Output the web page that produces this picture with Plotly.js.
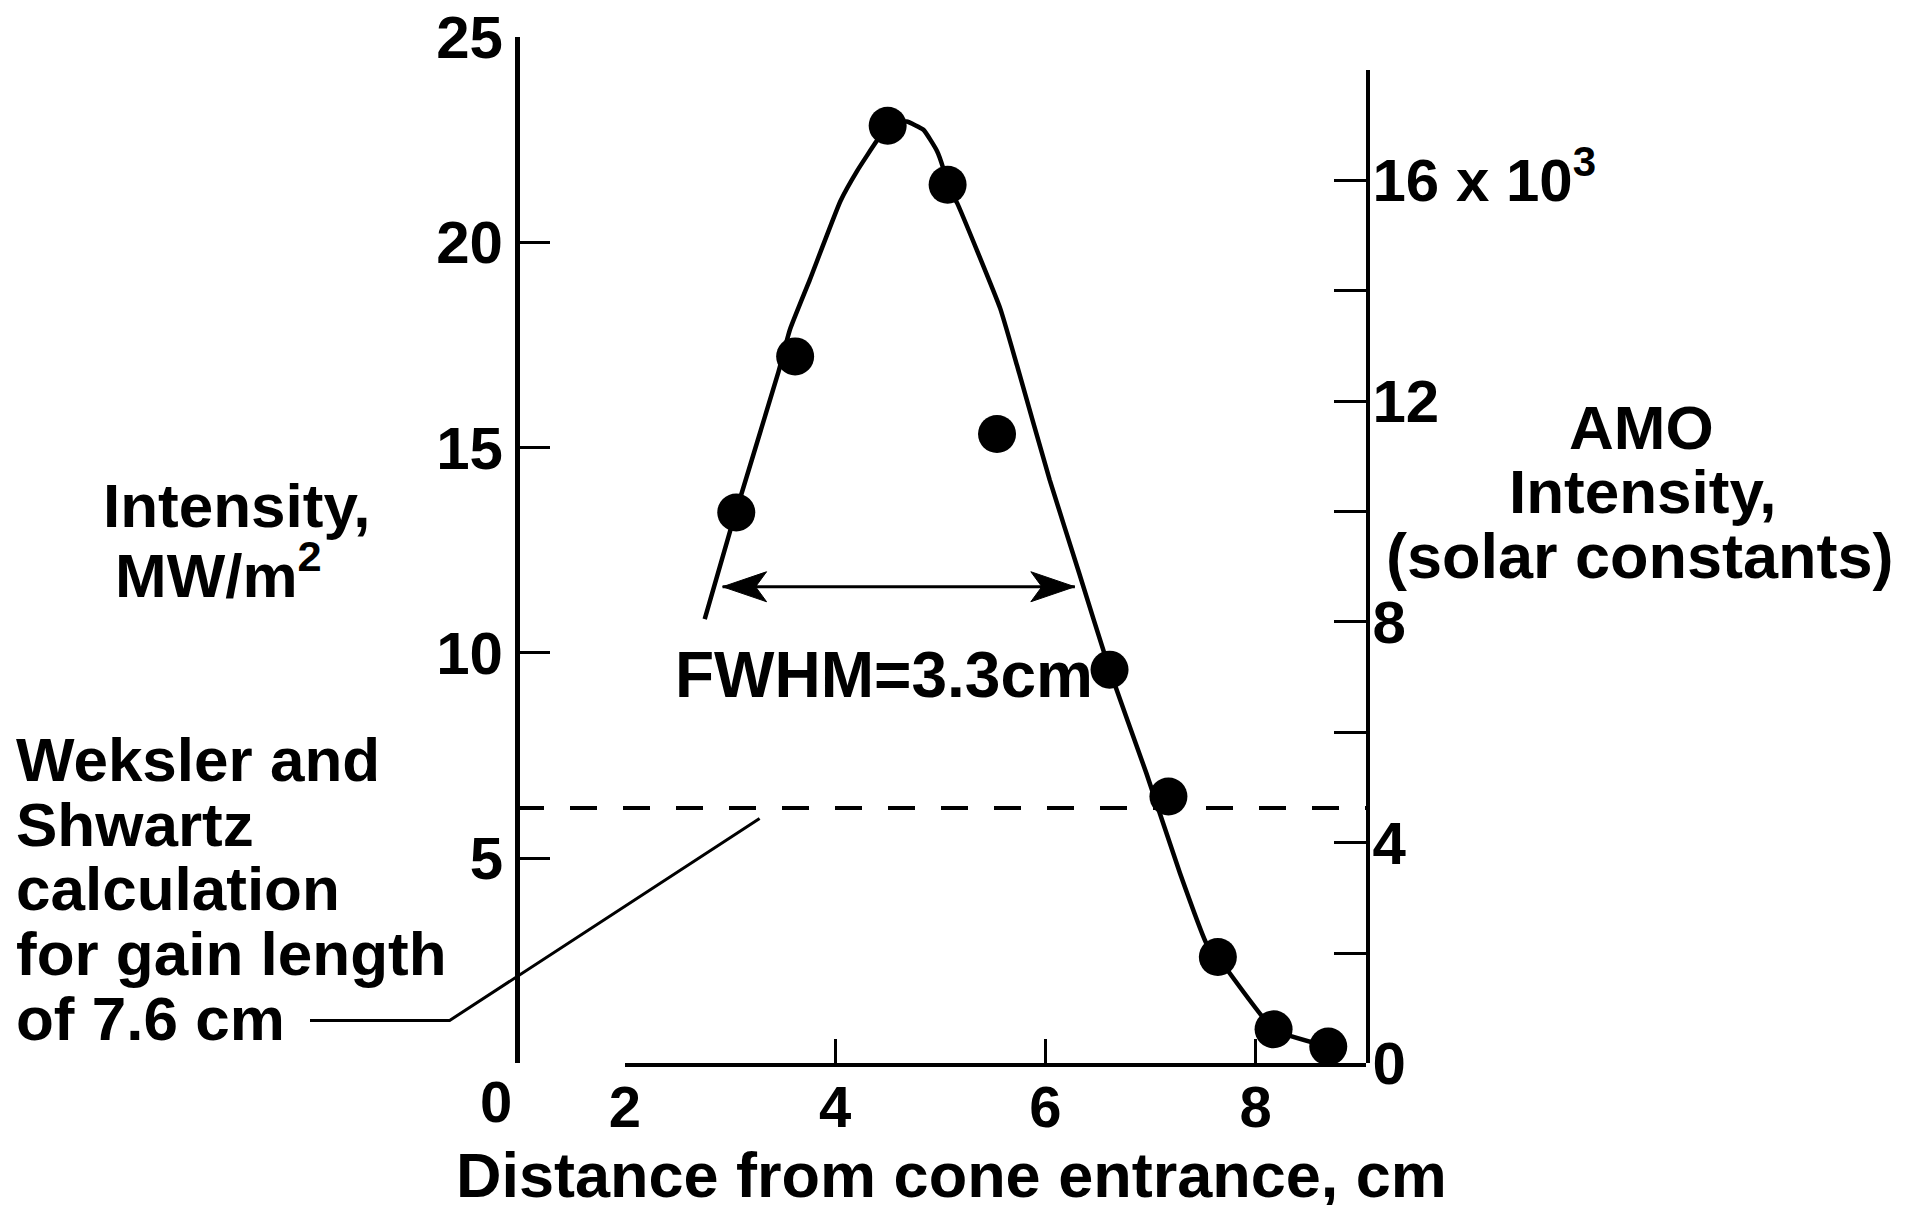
<!DOCTYPE html>
<html>
<head>
<meta charset="utf-8">
<script src="https://cdn.plot.ly/plotly-3.0.1.min.js"></script>
<style>html,body{margin:0;padding:0;background:#fff;}#chart{width:1921px;height:1205px;}</style>
</head>
<body>
<div id="chart"></div>
<script>
// ---------- data ----------
const pointX = [3.06, 3.62, 4.50, 5.07, 5.54, 6.61, 7.17, 7.64, 8.17, 8.69];
const pointY = [13.42, 17.22, 22.84, 21.40, 15.33, 9.59, 6.50, 2.59, 0.83, 0.41];

const curveX = [2.76, 3.00, 3.46, 3.57, 3.76, 4.05, 4.21, 4.40, 4.54, 4.68, 4.84, 4.97, 5.03, 5.07, 5.16, 5.57, 5.73, 6.04, 6.32, 6.61, 6.96, 7.28, 7.53, 7.64, 8.17, 8.69];
const curveY = [10.82, 12.95, 16.83, 17.87, 19.09, 21.00, 21.74, 22.48, 22.89, 22.94, 22.74, 22.22, 21.79, 21.37, 20.96, 18.39, 17.00, 14.22, 11.95, 9.59, 7.07, 4.63, 2.93, 2.59, 0.83, 0.41];

const gainLevel = 6.22;            // Weksler and Shwartz calculation, MW/m2
const fwhmEnds = [2.93, 6.28];     // cm
const fwhmLevel = 11.61;           // MW/m2
const fwhmLabel = 'FWHM=3.3cm';

const leftTickVals = [0, 5, 10, 15, 20, 25];
const leftTickText = ['', '5', '10', '15', '20', '25'];
const rightTickVals = [0, 2, 4, 6, 8, 10, 12, 14, 16, 18];
const rightTickText = ['0', '', '4', '', '8', '', '12', '', '16 x 10<sup>3</sup>', ''];
const bottomTickVals = [2, 4, 6, 8];
const bottomTickText = ['2', '4', '6', '8'];
const breakLabel = '0';

const xTitle = 'Distance from cone entrance, cm';
const leftTitle = ['Intensity,', 'MW/m<sup>2</sup>'];
const rightTitle = ['AMO', 'Intensity,', '(solar constants)'];
const noteLines = ['Weksler and', 'Shwartz', 'calculation', 'for gain length', 'of 7.6 cm'];

// ---------- layout geometry (pixels) ----------
const W = 1921, H = 1205;
const px = v => v / W;
const py = v => 1 - v / H;
const leftAxisPx = 517, xStartPx = 624.8, rightAxisPx = 1366;
const axisBottomPx = 1063.4, leftTopPx = 37, rightTopPx = 69.8;
const pxPerCm = 105.15;
const xMax = 2 + (rightAxisPx - xStartPx) / pxPerCm;

const FONT = 'Liberation Sans, Arial, Helvetica, sans-serif';
const black = '#000';

const traces = [
  {x: curveX, y: curveY, type: 'scatter', mode: 'lines', xaxis: 'x', yaxis: 'y',
   line: {color: black, width: 4.5, shape: 'spline', smoothing: 0.4}, hoverinfo: 'skip', showlegend: false},
  {x: pointX, y: pointY, type: 'scatter', mode: 'markers', xaxis: 'x', yaxis: 'y', cliponaxis: false,
   marker: {color: black, size: 38, line: {width: 0}}, showlegend: false},
  {x: [], y: [], type: 'scatter', mode: 'markers', xaxis: 'x', yaxis: 'y2', showlegend: false}
];

const annotations = [];
function txt(text, x, y, size, xanchor) {
  annotations.push({text: text, xref: 'paper', yref: 'paper', x: px(x), y: py(y),
    xanchor: xanchor || 'center', yanchor: 'middle', showarrow: false,
    font: {family: FONT, size: size, color: black, weight: 'bold'}});
}
txt(xTitle, 951, 1175, 63);
txt(leftTitle[0], 101, 505, 62, 'left');
txt(leftTitle[1], 113, 571, 62, 'left');
txt(rightTitle[0], 1641, 427, 62);
txt(rightTitle[1], 1643, 491, 62);
txt(rightTitle[2], 1640, 556, 63);
const noteY = [759, 824, 888, 953, 1018.5];
noteLines.forEach((t, i) => txt(t, 14, noteY[i], 62, 'left'));
txt(breakLabel, 496, 1101, 58);
annotations.push({text: fwhmLabel, xref: 'x', yref: 'y', x: (fwhmEnds[0] + fwhmEnds[1]) / 2, y: fwhmLevel,
  xshift: -15, yshift: -88, xanchor: 'center', yanchor: 'middle', showarrow: false,
  font: {family: FONT, size: 64, color: black, weight: 'bold'}});

const shapes = [
  // dashed calculated level across the chart
  {type: 'line', xref: 'paper', yref: 'y', x0: px(leftAxisPx), x1: px(rightAxisPx), y0: gainLevel, y1: gainLevel,
   line: {color: black, width: 4, dash: '27px,26px'}},
  // leader from the note to the dashed level
  {type: 'path', xref: 'paper', yref: 'paper',
   path: 'M' + px(310) + ',' + py(1020.5) + ' L' + px(449.6) + ',' + py(1020.5) + ' L' + px(759.6) + ',' + py(818.4),
   line: {color: black, width: 3}},
  // FWHM arrow shaft
  {type: 'line', xref: 'x', yref: 'y', x0: fwhmEnds[0], x1: fwhmEnds[1], y0: fwhmLevel, y1: fwhmLevel,
   line: {color: black, width: 3}},
  // arrowheads (pixel-sized, anchored at the ends)
  {type: 'path', xref: 'x', yref: 'y', xsizemode: 'pixel', ysizemode: 'pixel',
   xanchor: fwhmEnds[0], yanchor: fwhmLevel, path: 'M0,0 L44,15 L33,0 L44,-15 Z',
   fillcolor: black, line: {color: black, width: 1}},
  {type: 'path', xref: 'x', yref: 'y', xsizemode: 'pixel', ysizemode: 'pixel',
   xanchor: fwhmEnds[1], yanchor: fwhmLevel, path: 'M0,0 L-44,15 L-33,0 L-44,-15 Z',
   fillcolor: black, line: {color: black, width: 1}}
];

const layout = {
  width: W, height: H,
  margin: {l: 0, r: 0, t: 0, b: 0, pad: 0},
  paper_bgcolor: '#fff', plot_bgcolor: 'rgba(0,0,0,0)',
  font: {family: FONT, size: 58, color: black, weight: 'bold'},
  showlegend: false,
  xaxis: {domain: [px(xStartPx), px(rightAxisPx)], range: [2, xMax], showgrid: false, zeroline: false,
    showline: true, linecolor: black, linewidth: 4, ticks: 'inside', ticklen: 24, tickwidth: 3, tickcolor: black,
    tickvals: bottomTickVals, ticktext: bottomTickText, ticklabelstandoff: -10,
    tickfont: {family: FONT, size: 58, color: black, weight: 'bold'}, anchor: 'y', fixedrange: true},
  yaxis: {domain: [py(axisBottomPx), py(leftTopPx)], range: [0, 25], anchor: 'free', position: px(leftAxisPx),
    showgrid: false, zeroline: false, showline: true, linecolor: black, linewidth: 4.5,
    ticks: 'inside', ticklen: 30, tickwidth: 3, tickcolor: black,
    tickvals: leftTickVals, ticktext: leftTickText, ticklabelstandoff: 0,
    tickfont: {family: FONT, size: 60, color: black, weight: 'bold'}, fixedrange: true},
  yaxis2: {domain: [py(axisBottomPx), py(rightTopPx)], range: [0, 18], anchor: 'x', side: 'right',
    showgrid: false, zeroline: false, showline: true, linecolor: black, linewidth: 3.5,
    ticks: 'inside', ticklen: 32, tickwidth: 3, tickcolor: black,
    tickvals: rightTickVals, ticktext: rightTickText, ticklabelstandoff: -9,
    tickfont: {family: FONT, size: 60, color: black, weight: 'bold'}, fixedrange: true},
  annotations: annotations,
  shapes: shapes
};

Plotly.newPlot('chart', traces, layout, {staticPlot: true, displayModeBar: false});
</script>
</body>
</html>
